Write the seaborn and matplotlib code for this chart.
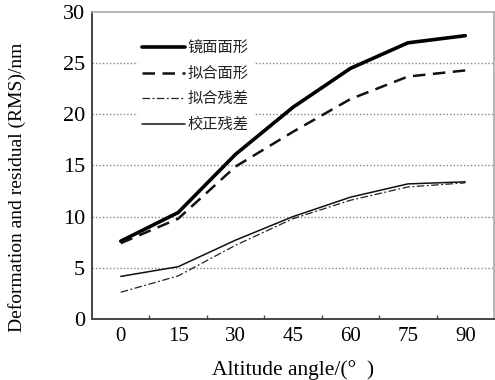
import numpy as np
import pandas as pd
import matplotlib
matplotlib.use('Agg')
import matplotlib.pyplot as plt
import seaborn as sns

# data
angles = [0, 15, 30, 45, 60, 75, 90]
mirror_shape = [7.6, 10.4, 16.1, 20.7, 24.5, 27.0, 27.7]
fitted_shape = [7.4, 9.8, 14.9, 18.3, 21.5, 23.7, 24.3]
fit_residual = [2.6, 4.2, 7.2, 9.8, 11.6, 12.9, 13.3]
corr_residual = [4.15, 5.1, 7.7, 10.0, 11.9, 13.2, 13.4]
series_names = ['镜面面形', '拟合面形', '拟合残差', '校正残差']

sns.set_theme(style='white')
plt.rcParams['font.family'] = ['Liberation Serif', 'Noto Sans CJK SC']

fig = plt.figure(figsize=(4.95, 3.8), dpi=100)
ax = fig.add_axes([0.186, 0.161, 0.812, 0.807])

styles = [
  dict(color='black', lw=2.6, ls='-'),
  dict(color='#111111', lw=1.8, ls=(0, (5, 3))),
  dict(color='#222222', lw=0.9, ls=(0, (6, 2, 1.5, 2))),
  dict(color='#111111', lw=1.1, ls='-'),
]
for name, vals, st in zip(series_names, [mirror_shape, fitted_shape, fit_residual, corr_residual], styles):
  df = pd.DataFrame({'angle': angles, 'value': vals})
  sns.lineplot(data=df, x='angle', y='value', ax=ax, label=name, zorder=3,
               color=st['color'], linewidth=st['lw'], linestyle=st['ls'])

ax.set_xlim(-7.5, 97.5)
ax.set_ylim(0, 30)
ax.set_xticks(angles)
ax.set_xticks(np.arange(7.5, 97.5, 15), minor=True)
ax.set_yticks(range(0, 31, 5))
ax.tick_params(axis='x', which='major', length=0, labelsize=15, pad=6)
ax.tick_params(axis='x', which='minor', direction='in', length=3, width=1, color='#444444', bottom=True)
ax.tick_params(axis='y', length=0, labelsize=16, pad=5)
for lab in ax.get_xticklabels() + ax.get_yticklabels():
  lab.set_color('black')

for y in range(5, 30, 5):
  ax.axhline(y, color='#888888', lw=1, ls=(0, (1, 1.5)), zorder=0)

for s in ['left', 'bottom']:
  ax.spines[s].set_color('#444444')
  ax.spines[s].set_linewidth(1.4)
for s in ['top', 'right']:
  ax.spines[s].set_color('#aaaaaa')
  ax.spines[s].set_linewidth(1.2)

ax.set_xlabel('Altitude angle/(°  )', fontsize=15.5, color='black', labelpad=10)
ax.set_ylabel('Deformation and residual (RMS)/nm', fontsize=14, color='black')
ax.yaxis.set_label_coords(-0.165, 0.43)

leg = ax.legend(loc='upper left', bbox_to_anchor=(0.095, 0.945), frameon=True, fontsize=11,
                handlelength=2.8, handletextpad=0.15, labelspacing=0.75, borderpad=0.3)
leg.get_frame().set_facecolor('white')
leg.get_frame().set_edgecolor('white')
leg.get_frame().set_alpha(1)
leg.set_zorder(1)
for t in leg.get_texts():
  t.set_color('#222222')

fig.savefig('out.png', dpi=100)
